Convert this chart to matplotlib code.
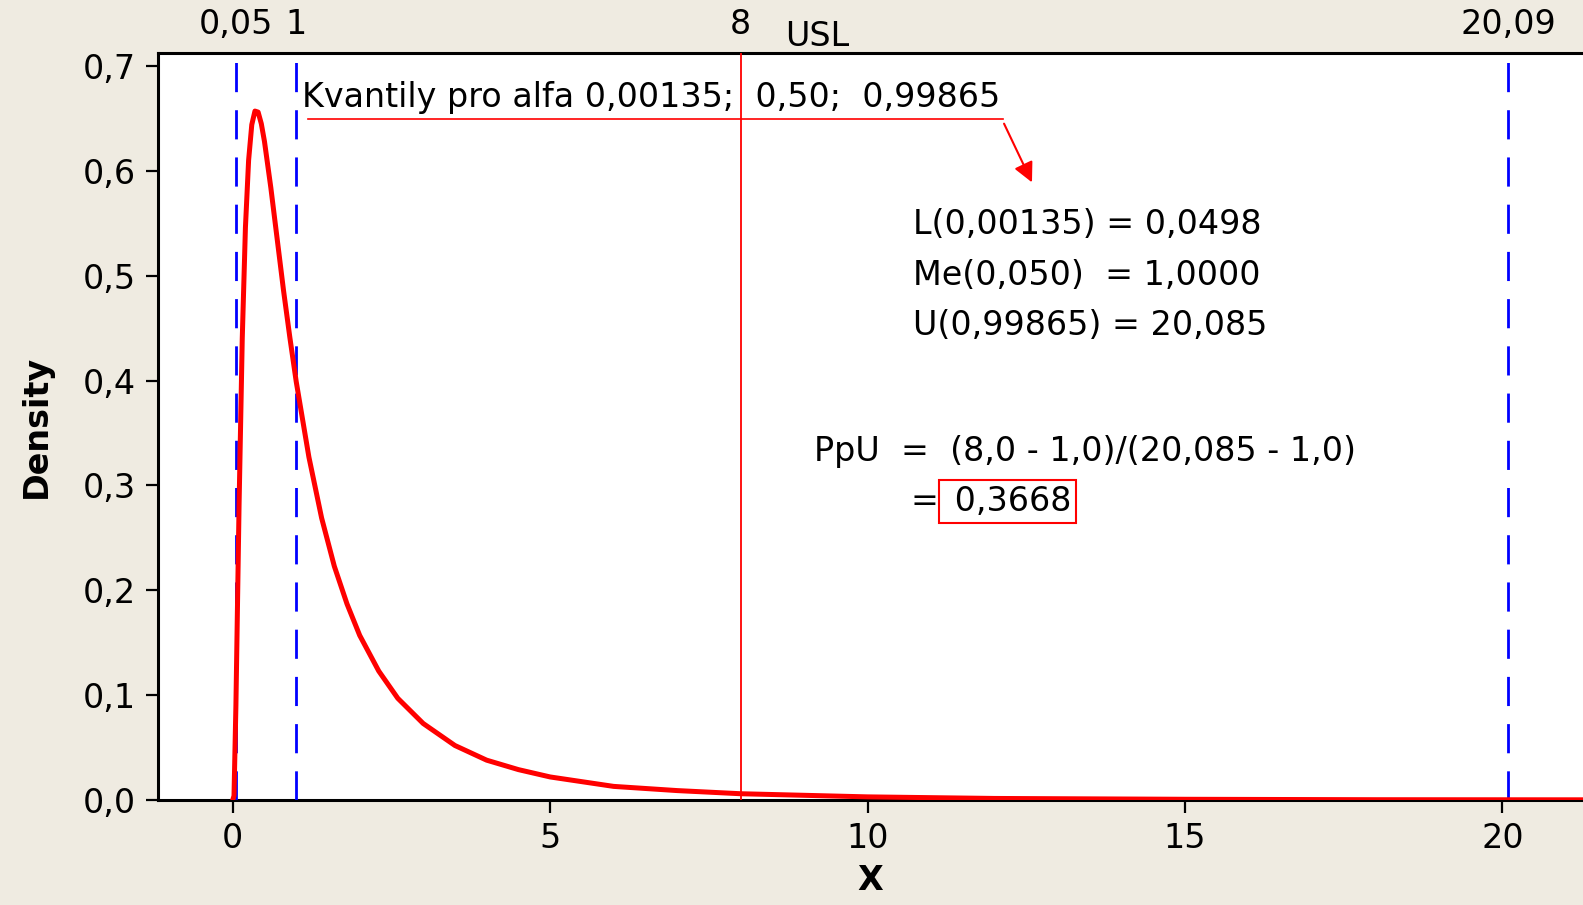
import matplotlib
matplotlib.use("Agg")
import matplotlib.pyplot as plt

plt.rcParams.update({
    'font.family': ['DejaVu Sans'],
    'font.size': 24,
    'figure.facecolor': '#EFEBE1',
    'axes.facecolor': 'white',
})

# ── Data ─────────────────────────────────────────────────────
x_vals = [0.0, 0.02, 0.05, 0.1, 0.15, 0.2, 0.25, 0.3, 0.35, 0.4, 0.45, 0.5,
          0.6, 0.7, 0.8, 0.9, 1.0, 1.2, 1.4, 1.6, 1.8, 2.0, 2.3, 2.6, 3.0,
          3.5, 4.0, 4.5, 5.0, 6.0, 7.0, 8.0, 10.0, 12.0, 15.0, 18.0, 21.3]
density = [0.000, 0.004, 0.090, 0.282, 0.440, 0.546, 0.610, 0.644, 0.657,
           0.656, 0.645, 0.628, 0.584, 0.535, 0.486, 0.441, 0.399, 0.327,
           0.269, 0.223, 0.187, 0.157, 0.123, 0.097, 0.073, 0.052, 0.038,
           0.029, 0.022, 0.013, 0.009, 0.006, 0.003, 0.0015, 0.0007, 0.0003,
           0.0002]

quantiles = [0.05, 1.0, 20.09]
usl = 8.0
top_ticks = [0.05, 1.0, 8.0, 20.09]
top_labels = ["0,05", "1", "8", "20,09"]
x_ticks = [0, 5, 10, 15, 20]
y_ticks = [0.0, 0.1, 0.2, 0.3, 0.4, 0.5, 0.6, 0.7]
y_labels = ["0,0", "0,1", "0,2", "0,3", "0,4", "0,5", "0,6", "0,7"]

RED = "#FF0000"
BLUE = "#0000FF"

fig = plt.figure(figsize=(15.83, 9.05), dpi=100)
ax = fig.add_axes([0.1001, 0.116, 0.8999, 0.825])

ax.plot(x_vals, density, color=RED, lw=3.6, zorder=4)

for q in quantiles:
    ax.axvline(q, color=BLUE, lw=2.0, ls=(0, (10.5, 6.5)), zorder=3)
ax.axvline(usl, color=RED, lw=1.3, zorder=3)

ax.set_xlim(-1.17, 21.27)
ax.set_ylim(0, 0.712)
ax.set_xticks(x_ticks)
ax.set_xticklabels([str(t) for t in x_ticks])
ax.set_yticks(y_ticks)
ax.set_yticklabels(y_labels)
ax.tick_params(axis='both', direction='out', length=9, width=1.6, pad=7,
               labelsize=24)
ax.spines['right'].set_visible(False)
for s in ['left', 'bottom', 'top']:
    ax.spines[s].set_linewidth(2.2)
ax.set_xlabel("X", fontsize=24, fontweight='bold', labelpad=6)
ax.set_ylabel("Density", fontsize=24, fontweight='bold', labelpad=22)

# top labels for quantiles and USL
axt = ax.twiny()
axt.set_xlim(ax.get_xlim())
axt.set_xticks(top_ticks)
axt.set_xticklabels(top_labels)
axt.tick_params(axis='x', length=0, pad=9, labelsize=24)
for s in axt.spines.values():
    s.set_visible(False)
ax.text(9.2, 1.0, "USL", transform=ax.get_xaxis_transform(),
        ha='center', va='bottom', fontsize=24)

# annotations
ax.text(1.085, 0.6695, "Kvantily pro alfa 0,00135;  0,50;  0,99865",
        ha='left', va='center', fontsize=24)
ax.plot([1.18, 12.13], [0.649, 0.649], color=RED, lw=1.2, zorder=3)
ax.annotate("", xy=(12.59, 0.589), xytext=(12.15, 0.645),
            arrowprops=dict(arrowstyle='-|>', color=RED, lw=1.5,
                            mutation_scale=30, shrinkA=0, shrinkB=0))

ax.text(10.71, 0.549, "L(0,00135) = 0,0498", ha='left', va='center', fontsize=24)
ax.text(10.71, 0.5003, "Me(0,050)  = 1,0000", ha='left', va='center', fontsize=24)
ax.text(10.71, 0.4529, "U(0,99865) = 20,085", ha='left', va='center', fontsize=24)
ax.text(9.15, 0.3325, "PpU  =  (8,0 - 1,0)/(20,085 - 1,0)",
        ha='left', va='center', fontsize=24)
ax.text(10.68, 0.2844, "=", ha='left', va='center', fontsize=24)
ax.text(11.2, 0.2844, " 0,3668", ha='left', va='center', fontsize=24,
        bbox=dict(boxstyle='square,pad=0.15', facecolor='none',
                  edgecolor=RED, lw=1.5))

fig.savefig("out.png", dpi=100, facecolor=fig.get_facecolor())
